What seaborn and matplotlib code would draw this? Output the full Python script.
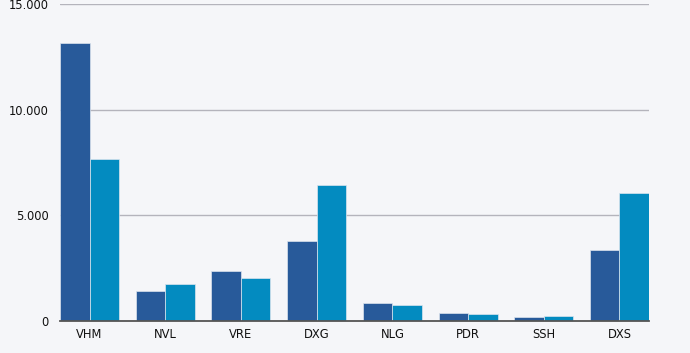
import matplotlib
matplotlib.use("Agg")
import matplotlib.pyplot as plt
import seaborn as sns
import pandas as pd
from matplotlib.ticker import FuncFormatter

categories = ["VHM", "NVL", "VRE", "DXG", "NLG", "PDR", "SSH", "DXS"]
series1 = [13150, 1410, 2370, 3770, 870, 360, 175, 3345]
series2 = [7670, 1765, 2020, 6440, 775, 315, 220, 6060]
series_names = ["Series 1", "Series 2"]
colors = ["#285a9a", "#038bc0"]

df = pd.DataFrame({
    "cat": categories * 2,
    "val": series1 + series2,
    "series": [series_names[0]] * len(categories) + [series_names[1]] * len(categories),
})

sns.set_theme(style="white")
plt.rcParams["font.family"] = ["DejaVu Sans"]

fig = plt.figure(figsize=(6.9, 3.53), dpi=100)
bg = "#f5f6f9"
fig.patch.set_facecolor(bg)
ax = fig.add_axes([0.087, 0.0907, 0.8536, 0.898])
ax.set_facecolor(bg)

sns.barplot(data=df, x="cat", y="val", hue="series", palette=colors,
            saturation=1, width=0.78, ax=ax, edgecolor="#dce4ee", linewidth=0.5,
            legend=False, zorder=3)

ax.set_xlim(-0.39, 7.39)
ax.set_ylim(0, 15000)
ax.set_yticks([0, 5000, 10000, 15000])
ax.yaxis.set_major_formatter(FuncFormatter(lambda v, p: f"{int(v):,}".replace(",", ".")))
ax.grid(axis="y", color="#b4b4bc", linewidth=1.0, zorder=0)
ax.grid(axis="x", visible=False)
for s in ["top", "right", "left"]:
    ax.spines[s].set_visible(False)
ax.spines["bottom"].set_color("#555555")
ax.spines["bottom"].set_linewidth(1.3)
ax.spines["bottom"].set_zorder(4)
ax.tick_params(axis="y", length=0, pad=8, labelsize=8.3, labelcolor="#111111")
ax.tick_params(axis="x", length=0, pad=5, labelsize=8.3, labelcolor="#111111")
ax.set_xlabel("")
ax.set_ylabel("")

fig.savefig("out.png", dpi=100, facecolor=bg)
